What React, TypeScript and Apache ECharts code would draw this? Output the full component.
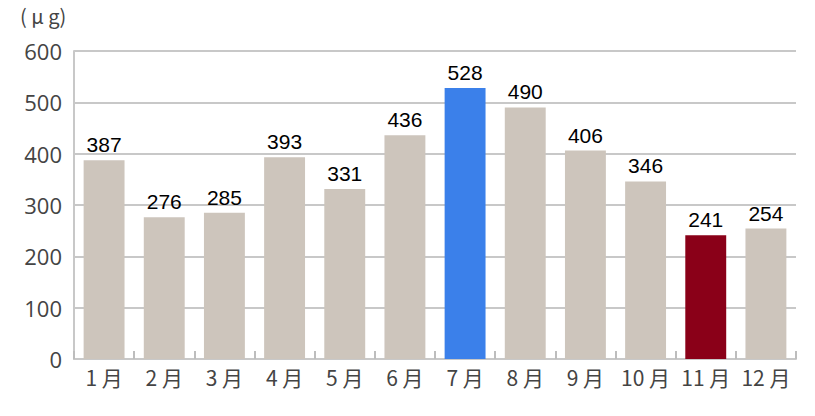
import React, { useEffect, useRef } from 'react';
import * as echarts from 'echarts';

const months = ['1 月', '2 月', '3 月', '4 月', '5 月', '6 月', '7 月', '8 月', '9 月', '10 月', '11 月', '12 月'];
const values = [387, 276, 285, 393, 331, 436, 528, 490, 406, 346, 241, 254];
const barColors = ['#cdc5bc', '#cdc5bc', '#cdc5bc', '#cdc5bc', '#cdc5bc', '#cdc5bc', '#3b80ea', '#cdc5bc', '#cdc5bc', '#cdc5bc', '#8a0018', '#cdc5bc'];
const unitLabel = '( μ g)';

const App: React.FC = () => {
    const chartRef = useRef<HTMLDivElement | null>(null);

    useEffect(() => {
        if (!chartRef.current) return;

        const myChart = echarts.init(chartRef.current, null, { renderer: 'svg' });

        const option = {
            animation: false,
            backgroundColor: '#fff',
            grid: {
                left: 74,
                right: 19,
                top: 51,
                bottom: 57
            },
            graphic: [
                {
                    type: 'text',
                    left: 20,
                    top: 5,
                    style: {
                        text: unitLabel,
                        font: '20px "Noto Sans CJK JP"',
                        fill: '#444'
                    }
                }
            ],
            xAxis: {
                type: 'category',
                data: months,
                axisLine: {
                    lineStyle: { color: '#c8c8c8', width: 2 }
                },
                axisTick: {
                    show: true,
                    inside: true,
                    interval: 0,
                    length: 8,
                    lineStyle: { color: '#bdbdbd', width: 2 }
                },
                axisLabel: {
                    interval: 0,
                    color: '#444',
                    fontSize: 21,
                    fontFamily: '"Noto Sans CJK JP"',
                    margin: 7
                }
            },
            yAxis: {
                type: 'value',
                min: 0,
                max: 600,
                interval: 100,
                axisLine: {
                    show: true,
                    lineStyle: { color: '#c8c8c8', width: 2 }
                },
                axisTick: { show: false },
                splitLine: {
                    lineStyle: { color: '#c8c8c8', width: 2 }
                },
                axisLabel: {
                    color: '#444',
                    fontSize: 22,
                    fontFamily: '"Open Sans"',
                    margin: 12
                }
            },
            series: [
                {
                    type: 'bar',
                    barWidth: '68%',
                    data: values.map((v, i) => ({
                        value: v,
                        itemStyle: { color: barColors[i] }
                    })),
                    label: {
                        show: true,
                        position: 'top',
                        distance: 5,
                        color: '#000',
                        fontSize: 21,
                        fontFamily: '"Liberation Sans"'
                    }
                }
            ]
        };

        myChart.setOption(option);

        return () => {
            myChart.dispose();
        };
    }, []);

    return (
        <div
            ref={chartRef}
            style={{ width: '815px', height: '416px', position: 'absolute', left: 0, top: 0 }}
        />
    );
};

export default App;
